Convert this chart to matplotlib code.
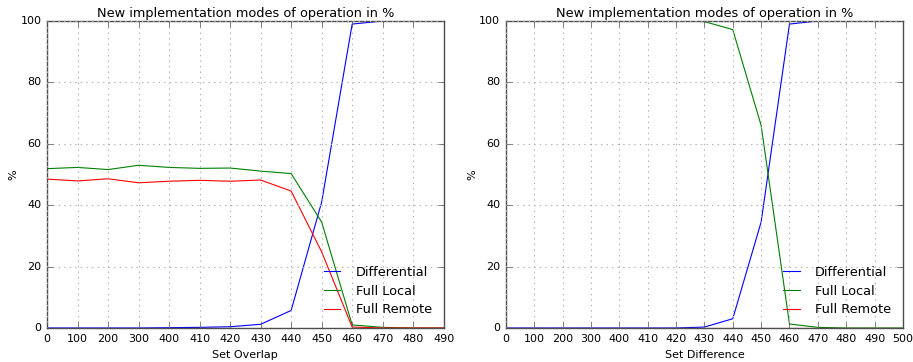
import numpy as np
import matplotlib
matplotlib.use('Agg')
import matplotlib.pyplot as plt

plt.style.use('classic')

# Set Overlap panel
overlap_labels = ['0', '100', '200', '300', '400', '410', '420', '430', '440', '450', '460', '470', '480', '490']
overlap_diff = [0, 0, 0, 0, 0.1, 0.2, 0.4, 1.2, 5.7, 41, 99, 100, 100, 100]
overlap_local = [51.9, 52.3, 51.6, 53.0, 52.3, 52.0, 52.1, 51.1, 50.3, 34.5, 1.0, 0.2, 0, 0]
overlap_remote = [48.5, 47.9, 48.6, 47.3, 47.8, 48.1, 47.8, 48.2, 44.6, 24.8, 0.3, 0, 0, 0]

# Set Difference panel
diff_labels = ['0', '100', '200', '300', '400', '410', '420', '430', '440', '450', '460', '470', '480', '490', '500']
diff_diff = [0, 0, 0, 0, 0, 0, 0, 0.3, 3.0, 34.5, 99, 100, 100, 100, 100]
diff_local = [100, 100, 100, 100, 100, 100, 100, 99.8, 97.2, 66, 1.3, 0.2, 0, 0, 0]
diff_remote = [0, 0, 0, 0, 0, 0, 0, 0, 0, 0, 0, 0, 0, 0, 0]

fig = plt.figure(figsize=(9.13, 3.62), dpi=100, facecolor='white')
ax1 = fig.add_axes([0.0515, 0.094, 0.4345, 0.848])
ax2 = fig.add_axes([0.554, 0.094, 0.435, 0.848])


def draw(ax, labels, d, l, r, xlabel):
    x = np.arange(len(labels))
    ax.plot(x, d, color='b', lw=0.8, label='Differential')
    ax.plot(x, l, color='g', lw=0.8, label='Full Local')
    ax.plot(x, r, color='r', lw=0.8, label='Full Remote')
    ax.set_xlim(0, len(labels) - 1)
    ax.set_ylim(0, 100)
    ax.set_xticks(x)
    ax.set_xticklabels(labels)
    ax.tick_params(labelsize=8, color='0.3')
    for s in ax.spines.values():
        s.set_edgecolor('0.3')
    ax.grid(True, color='#b0b0b0', linestyle=':', lw=0.8)
    ax.set_xlabel(xlabel, fontsize=8, labelpad=5)
    ax.set_ylabel('%', fontsize=8, labelpad=1.5)
    ax.set_title('New implementation modes of operation in %', fontsize=9.3, pad=3)
    ax.legend(loc='lower right', frameon=False, fontsize=9.3, handlelength=1.9,
              handletextpad=0.9, labelspacing=0.45)


draw(ax1, overlap_labels, overlap_diff, overlap_local, overlap_remote, 'Set Overlap')
draw(ax2, diff_labels, diff_diff, diff_local, diff_remote, 'Set Difference')

fig.savefig('out.png', dpi=100, facecolor='white')
